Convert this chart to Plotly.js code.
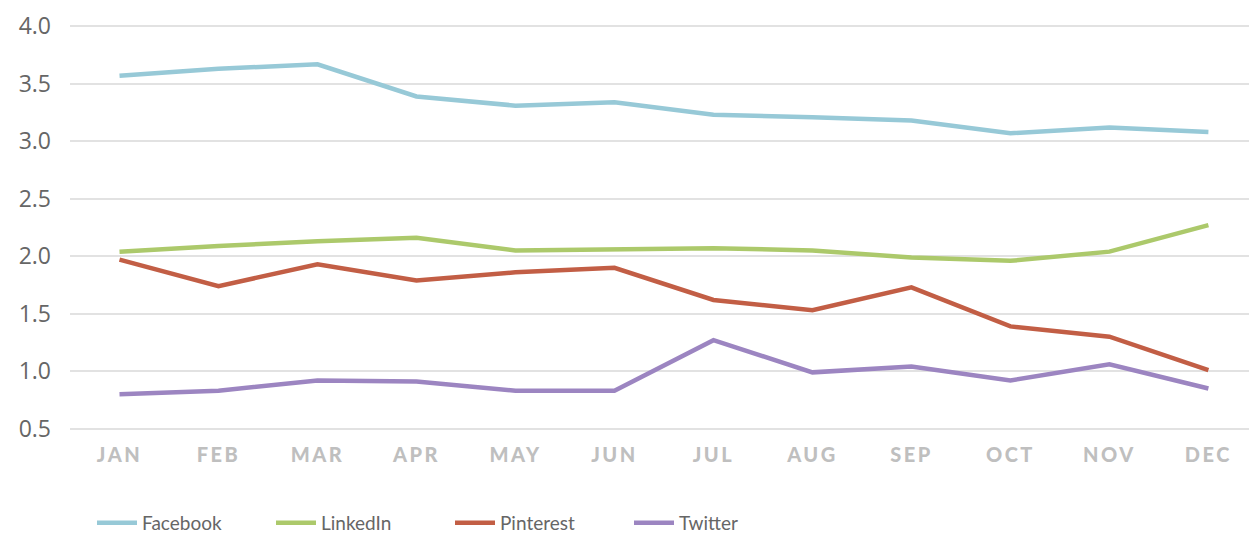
<!DOCTYPE html>
<html>
<head>
<meta charset="utf-8">
<script src="https://cdn.plot.ly/plotly-3.0.1.min.js"></script>
<style>
html,body{margin:0;padding:0;background:#fff;}
#chart{width:1249px;height:533px;}
.xtick text{letter-spacing:2.5px;}
</style>
</head>
<body>
<div id="chart"></div>
<script>
const months = ["JAN","FEB","MAR","APR","MAY","JUN","JUL","AUG","SEP","OCT","NOV","DEC"];
const facebook  = [3.57,3.63,3.67,3.39,3.31,3.34,3.23,3.21,3.18,3.07,3.12,3.08];
const linkedin  = [2.04,2.09,2.13,2.16,2.05,2.06,2.07,2.05,1.99,1.96,2.04,2.27];
const pinterest = [1.97,1.74,1.93,1.79,1.86,1.90,1.62,1.53,1.73,1.39,1.30,1.01];
const twitter   = [0.80,0.83,0.92,0.91,0.83,0.83,1.27,0.99,1.04,0.92,1.06,0.85];
const yTicks = [0.5,1.0,1.5,2.0,2.5,3.0,3.5,4.0];

const mk = (name, y, color) => ({
  type:'scatter', mode:'lines', name:name, x:months, y:y,
  line:{color:color, width:4.5}, hoverinfo:'x+y+name'
});

const data = [
  mk('Facebook', facebook, '#97c9d7'),
  mk('LinkedIn', linkedin, '#acc96b'),
  mk('Pinterest', pinterest, '#c25e45'),
  mk('Twitter', twitter, '#9c85c1')
];

const layout = {
  width:1249, height:533,
  margin:{l:70, r:0, t:24, b:102},
  paper_bgcolor:'#fff', plot_bgcolor:'#fff',
  font:{family:'Lato, "Open Sans", sans-serif', color:'#666'},
  showlegend:true,
  xaxis:{
    type:'category', range:[-0.5, 11.41], showgrid:false, zeroline:false,
    showline:false, ticks:'', fixedrange:true,
    tickfont:{family:'Lato, "Open Sans", sans-serif', size:20, color:'#bfbfbf', weight:900},
    ticklabelstandoff:10
  },
  yaxis:{
    range:[0.48, 4.02], tickvals:yTicks, ticktext:yTicks.map(v=>v.toFixed(1)),
    showgrid:true, gridcolor:'#e2e2e2', gridwidth:2, zeroline:false, showline:false,
    ticks:'', fixedrange:true,
    tickfont:{family:'"Open Sans", Lato, sans-serif', size:23, color:'#666'},
    ticklabelstandoff:18
  },
  legend:{
    orientation:'h', xref:'container', yref:'container', x:92/1249, y:10/533,
    xanchor:'left', yanchor:'middle',
    font:{family:'Lato, "Open Sans", sans-serif', size:19, color:'#666'},
    entrywidth:124, entrywidthmode:'pixels', itemwidth:40
  }
};

Plotly.newPlot('chart', data, layout, {displayModeBar:false, staticPlot:true});
</script>
</body>
</html>
